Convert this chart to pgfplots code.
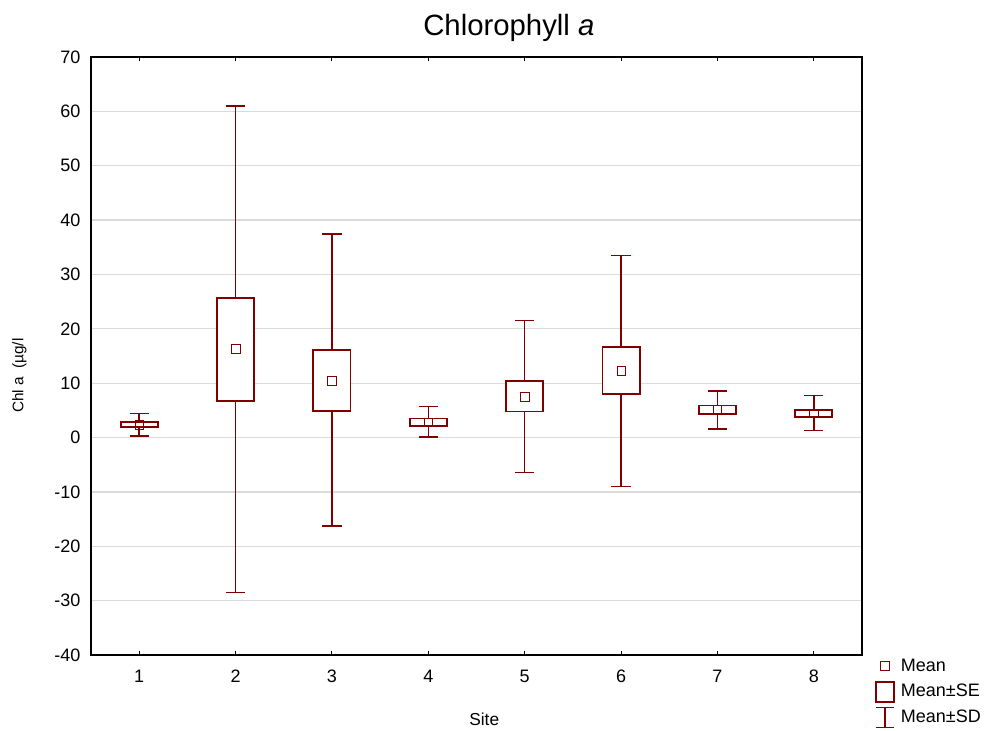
\documentclass[border=0pt]{standalone}
\usepackage{fontspec}
\setmainfont{Liberation Sans}
\usepackage{pgfplots}
\pgfplotsset{compat=1.18}
\usepgfplotslibrary{statistics}
\definecolor{maroon}{RGB}{128,0,0}

\begin{document}
\begin{tikzpicture}
\useasboundingbox (-68.25pt,-57pt) rectangle (681.75pt,491.25pt);
\begin{axis}[
  at={(0,0)}, anchor=south west,
  scale only axis, width=578.25pt, height=448.5pt,
  xmin=0.5, xmax=8.5, ymin=-40, ymax=70,
  xtick={1,...,8}, ytick={-40,-30,...,70},
  ymajorgrids, grid style={gray!28, line width=0.9pt},
  major tick length=3pt, tick align=inside,
  ytick style={draw=none},
  xtick style={black, line width=0.8pt},
  axis line style={line width=1.1pt},
  tick label style={font=\fontsize{13.5}{15}\selectfont},
  yticklabel style={xshift=-4.5pt},
  xticklabel style={yshift=-7.5pt},
  /pgf/number format/assume math mode=true,
  title={Chlorophyll \textit{a}},
  title style={at={(axis description cs:0.542,1)}, anchor=center, yshift=15.5pt,
    font=\fontsize{22}{24}\selectfont},
  xlabel={Site},
  xlabel style={at={(axis description cs:0.51,-0.107)}, anchor=center,
    font=\fontsize{13}{15}\selectfont},
  ylabel={Chl a\ \ (µg/l},
  ylabel style={at={(axis description cs:-0.093,0.467)}, anchor=center,
    font=\fontsize{11.5}{13}\selectfont},
  boxplot/draw direction=y,
  boxplot/box extend=0.385,
  boxplot/whisker extend=0.2,
  boxplot/every box/.style={draw=maroon, line width=1.4pt, fill=white},
  boxplot/every whisker/.style={draw=maroon, line width=1.1pt},
  boxplot/every median/.style={draw=none},
  boxplot/every average/.style={/tikz/mark=square, /tikz/mark size=3.2pt,
    draw=maroon, line width=1.2pt},
  legend style={at={(axis description cs:1.0117,0.0045)}, anchor=north west,
    draw=none, fill=none, row sep=3pt,
    font=\fontsize{13.5}{15}\selectfont},
  legend cell align=left,
]
% site: lower SD, lower SE, mean, upper SE, upper SD
\addplot[maroon, forget plot, boxplot prepared={draw position=1,
  lower whisker=0.3, lower quartile=1.9, median=2.35, average=2.35,
  upper quartile=2.8, upper whisker=4.45}] coordinates {};
\addplot[maroon, forget plot, boxplot prepared={draw position=2,
  lower whisker=-28.5, lower quartile=6.8, median=16.3, average=16.3,
  upper quartile=25.6, upper whisker=61.0}] coordinates {};
\addplot[maroon, forget plot, boxplot prepared={draw position=3,
  lower whisker=-16.3, lower quartile=4.9, median=10.4, average=10.4,
  upper quartile=16.1, upper whisker=37.4}] coordinates {};
\addplot[maroon, forget plot, boxplot prepared={draw position=4,
  lower whisker=0.1, lower quartile=2.2, median=2.85, average=2.85,
  upper quartile=3.5, upper whisker=5.7}] coordinates {};
\addplot[maroon, forget plot, boxplot prepared={draw position=5,
  lower whisker=-6.4, lower quartile=4.8, median=7.5, average=7.5,
  upper quartile=10.4, upper whisker=21.5}] coordinates {};
\addplot[maroon, forget plot, boxplot prepared={draw position=6,
  lower whisker=-9.0, lower quartile=8.0, median=12.3, average=12.3,
  upper quartile=16.6, upper whisker=33.5}] coordinates {};
\addplot[maroon, forget plot, boxplot prepared={draw position=7,
  lower whisker=1.6, lower quartile=4.4, median=5.15, average=5.15,
  upper quartile=5.9, upper whisker=8.6}] coordinates {};
\addplot[maroon, forget plot, boxplot prepared={draw position=8,
  lower whisker=1.3, lower quartile=3.8, median=4.45, average=4.45,
  upper quartile=5.1, upper whisker=7.7}] coordinates {};

\addlegendimage{draw=maroon, color=maroon, line width=1.2pt,
  legend image code/.code={
  \path[draw=none, fill=none] (0pt,-8pt) rectangle (17pt,8pt);
  \draw[draw=maroon] (3.7pt,-3.4pt) rectangle (10.5pt,3.4pt);}}
\addlegendentry{Mean}
\addlegendimage{draw=maroon, color=maroon, line width=1.6pt,
  legend image code/.code={
  \path[draw=none, fill=none] (0pt,-8pt) rectangle (17pt,8pt);
  \draw[draw=maroon] (0.6pt,-7.5pt) rectangle (13.6pt,7.5pt);}}
\addlegendentry{Mean±SE}
\addlegendimage{draw=maroon, color=maroon, line width=1.1pt,
  legend image code/.code={
  \path[draw=none, fill=none] (0pt,-8pt) rectangle (17pt,8pt);
  \draw[draw=maroon] (0.6pt,7.5pt) -- (13.6pt,7.5pt)
    (7.1pt,7.5pt) -- (7.1pt,-7.5pt) (0.6pt,-7.5pt) -- (13.6pt,-7.5pt);}}
\addlegendentry{Mean±SD}
\end{axis}
\end{tikzpicture}
\end{document}
